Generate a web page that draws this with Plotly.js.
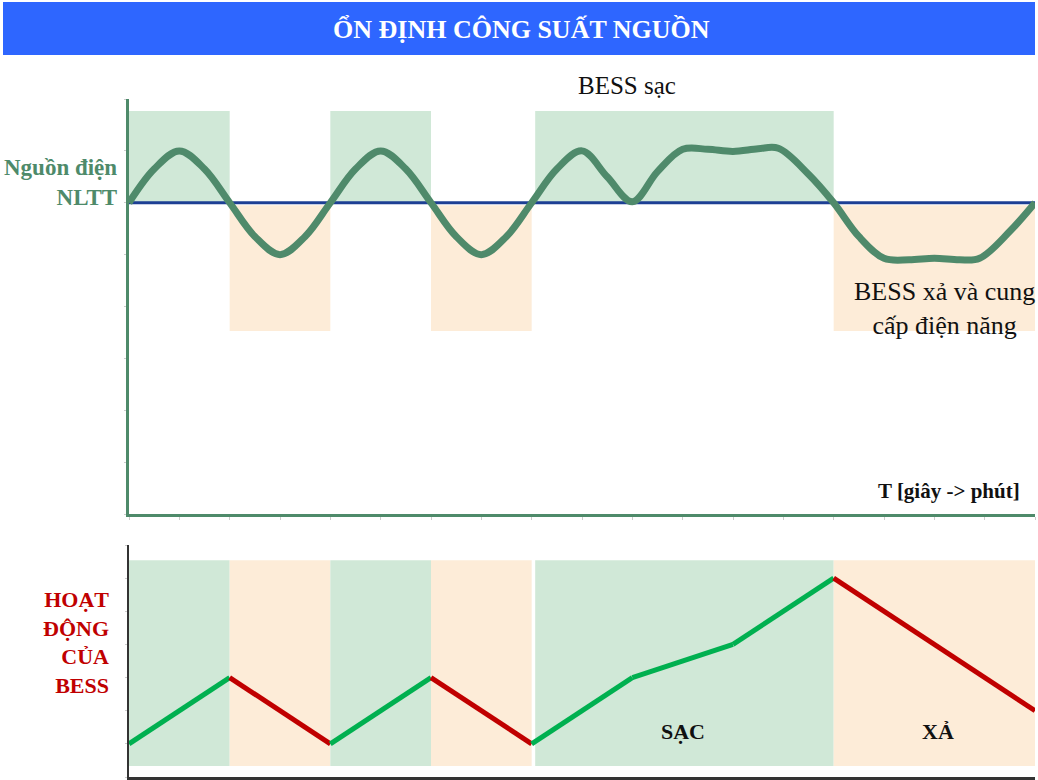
<!DOCTYPE html>
<html>
<head>
<meta charset="utf-8">
<script src="https://cdn.plot.ly/plotly-3.0.1.min.js"></script>
<style>html,body{margin:0;padding:0;background:#fff;}#chart{width:1038px;height:780px;}</style>
</head>
<body>
<div id="chart"></div>
<script>
// ---- data ----
const phaseStart = [0, 2, 4, 6, 8.07, 14];
const phaseEnd   = [2, 4, 6, 8, 14, 18];
const phaseType  = ['charge', 'discharge', 'charge', 'discharge', 'charge', 'discharge'];

const waveX = [0, 0.5, 1, 1.5, 2, 2.5, 3, 3.5, 4, 4.5, 5, 5.5, 6, 6.5, 7, 7.5, 8,
               8.5, 9, 9.5, 10, 10.5, 11, 11.5, 12, 12.5, 12.9, 13.5, 14,
               14.5, 15, 15.5, 16, 16.5, 16.9, 17.5, 18];
const waveY = [6, 6.65, 7, 6.65, 6, 5.35, 5, 5.35, 6, 6.65, 7, 6.65, 6, 5.35, 5, 5.35, 6,
               6.65, 7, 6.5, 6.02, 6.6, 7.03, 7.03, 6.99, 7.04, 7.05, 6.55, 6.0,
               5.35, 4.93, 4.9, 4.93, 4.9, 4.93, 5.45, 6.0];

const baseX = [0, 18];
const baseY = [6, 6];

const bessX = [0, 2, 4, 6, 8, 10, 12, 14, 18];
const bessY = [1, 3, 1, 3, 1, 3, 4, 6, 2];

// ---- styles ----
const W = 1038, H = 780;
const px = v => v / W;
const py = v => 1 - v / H;
const GREEN_AX = '#4e8a6a';
const SHADE_G = '#d0e8d7';
const SHADE_O = '#fdecd8';
const SERIF = '"Liberation Serif", "DejaVu Serif", serif';

const traces = [];
traces.push({x: baseX, y: baseY, xaxis: 'x', yaxis: 'y', mode: 'lines',
  line: {color: '#1d3f94', width: 3}, hoverinfo: 'skip', showlegend: false});
traces.push({x: waveX, y: waveY, xaxis: 'x', yaxis: 'y', mode: 'lines',
  line: {color: '#4f8a6b', width: 7, shape: 'spline', smoothing: 1}, hoverinfo: 'skip', showlegend: false});

for (let i = 0; i < bessX.length - 1; i++) {
  const rising = bessY[i + 1] > bessY[i];
  traces.push({x: [bessX[i], bessX[i + 1]], y: [bessY[i], bessY[i + 1]], xaxis: 'x2', yaxis: 'y2',
    mode: 'lines', line: {color: rising ? '#00b050' : '#c00000', width: 5}, hoverinfo: 'skip', showlegend: false});
}

const shapes = [];
// title bar
shapes.push({type: 'rect', xref: 'paper', yref: 'paper', x0: px(3), x1: px(1035), y0: py(55), y1: py(2),
  fillcolor: '#2e66ff', line: {width: 0}, layer: 'below'});
for (let i = 0; i < phaseStart.length; i++) {
  const ch = phaseType[i] === 'charge';
  shapes.push({type: 'rect', xref: 'x', yref: 'y', x0: phaseStart[i], x1: phaseEnd[i],
    y0: ch ? 6 : 3.53, y1: ch ? 7.77 : 5.95, fillcolor: ch ? SHADE_G : SHADE_O, line: {width: 0}, layer: 'below'});
  shapes.push({type: 'rect', xref: 'x2', yref: 'y2', x0: phaseStart[i], x1: phaseEnd[i],
    y0: 0.33, y1: 6.54, fillcolor: ch ? SHADE_G : SHADE_O, line: {width: 0}, layer: 'below'});
}

const ann = (text, x, y, xa, size, color, bold, align) => ({
  text: bold ? '<b>' + text + '</b>' : text, xref: 'paper', yref: 'paper', x: px(x), y: py(y),
  xanchor: xa, yanchor: 'middle', showarrow: false, align: align || 'center',
  font: {family: SERIF, size: size, color: color}
});

const annotations = [
  ann('ỔN ĐỊNH CÔNG SUẤT NGUỒN', 521, 30, 'center', 26, '#ffffff', true),
  ann('BESS sạc', 627, 85, 'center', 25, '#111111', false),
  ann('BESS xả và cung<br>cấp điện năng', 944, 309, 'center', 26, '#111111', false),
  ann('Nguồn điện<br>NLTT', 119, 182, 'right', 23, '#4e8a6a', true, 'right'),
  ann('T [giây -> phút]', 1022, 491, 'right', 21, '#111111', true),
  ann('HOẠT<br>ĐỘNG<br>CỦA<br>BESS', 111, 642, 'right', 22, '#c00000', true, 'right'),
  ann('SẠC', 683, 731, 'center', 22, '#111111', true),
  ann('XẢ', 938, 731, 'center', 22, '#111111', true)
];

const layout = {
  width: W, height: H, margin: {l: 0, r: 0, t: 0, b: 0},
  paper_bgcolor: '#ffffff', plot_bgcolor: 'rgba(0,0,0,0)', showlegend: false,
  xaxis: {domain: [px(129), px(1035)], range: [0, 18], anchor: 'y', showgrid: false, zeroline: false,
    showline: true, linecolor: GREEN_AX, linewidth: 3, ticks: 'outside', ticklen: 3, tickcolor: '#cccccc',
    dtick: 1, showticklabels: false, fixedrange: true},
  yaxis: {domain: [py(514), py(99)], range: [0, 8], anchor: 'x', showgrid: false, zeroline: false,
    showline: true, linecolor: GREEN_AX, linewidth: 3, ticks: 'outside', ticklen: 2, tickcolor: '#cccccc',
    dtick: 1, showticklabels: false, fixedrange: true},
  xaxis2: {domain: [px(129), px(1035)], range: [0, 18], anchor: 'y2', showgrid: false, zeroline: false,
    showline: true, linecolor: '#333333', linewidth: 2.5, ticks: '', showticklabels: false, fixedrange: true},
  yaxis2: {domain: [py(777), py(545)], range: [0, 7], anchor: 'x2', showgrid: false, zeroline: false,
    showline: true, linecolor: '#333333', linewidth: 2, ticks: 'outside', ticklen: 2, tickcolor: '#cccccc',
    dtick: 1, showticklabels: false, fixedrange: true},
  shapes: shapes,
  annotations: annotations
};

Plotly.newPlot('chart', traces, layout, {displayModeBar: false, staticPlot: true});
</script>
</body>
</html>
